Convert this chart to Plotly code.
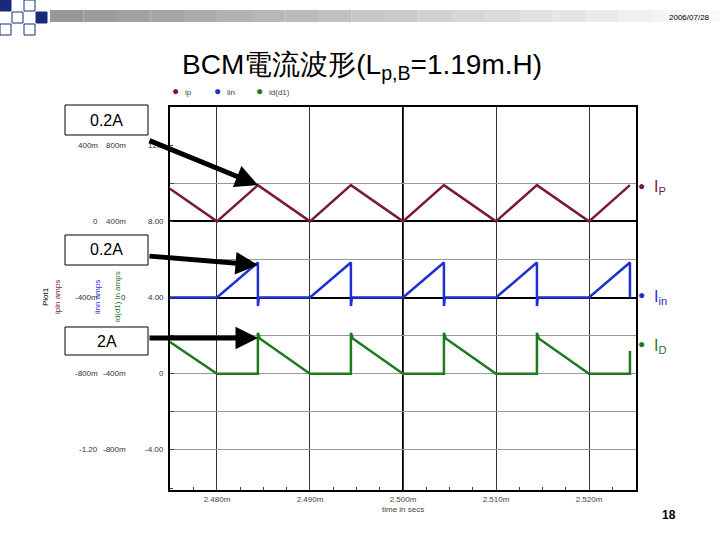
import plotly.graph_objects as go

# ---- data (time in ms, current in plot units of the id(d1) scale) ----
ip_t = [2.47495, 2.4800, 2.4844, 2.4900, 2.4944, 2.5000, 2.5044, 2.5100, 2.5144, 2.5200, 2.5244]
ip_v = [9.71, 8.0, 9.9, 8.0, 9.9, 8.0, 9.9, 8.0, 9.9, 8.0, 9.9]

iin_t = [2.47495, 2.4800, 2.4844, 2.4844, 2.4845, 2.4900, 2.4944, 2.4944, 2.4945, 2.5000,
         2.5044, 2.5044, 2.5045, 2.5100, 2.5144, 2.5144, 2.5145, 2.5200, 2.5244, 2.5244]
iin_v = [4.0, 4.0, 5.84, 3.55, 4.0, 4.0, 5.84, 3.55, 4.0, 4.0,
         5.84, 3.55, 4.0, 4.0, 5.84, 3.55, 4.0, 4.0, 5.84, 4.0]

id_t = [2.47495, 2.4800, 2.4844, 2.4844, 2.4846, 2.4900, 2.4944, 2.4944, 2.4946, 2.5000,
        2.5044, 2.5044, 2.5046, 2.5100, 2.5144, 2.5144, 2.5146, 2.5200, 2.5244, 2.5244]
id_v = [1.67, 0.0, 0.0, 2.15, 1.85, 0.0, 0.0, 2.15, 1.85, 0.0,
        0.0, 2.15, 1.85, 0.0, 0.0, 2.15, 1.85, 0.0, 0.0, 1.2]

x_ticks = [2.480, 2.490, 2.500, 2.510, 2.520]
x_ticktext = ["2.480m", "2.490m", "2.500m", "2.510m", "2.520m"]
y_rows = [12.0, 8.0, 4.0, 0.0, -4.0]
col_ip = ["400m", "0", "-400m", "-800m", "-1.20"]
col_iin = ["800m", "400m", "0", "-400m", "-800m"]
col_id = ["12.0", "8.00", "4.00", "0", "-4.00"]

MAROON, BLUE, GREEN = "#7a1840", "#1f2fd0", "#1e7a1e"

X0, X1 = 170 / 720, 636 / 720
Y0, Y1 = (540 - 490) / 540, (540 - 107) / 540
YR = [-6.1, 14.0]

fig = go.Figure()
# invisible trace to anchor the overlay axis that carries the dark grid lines
fig.add_trace(go.Scatter(x=[ip_t[0]], y=[ip_v[0]], yaxis="y2", mode="markers",
                         marker=dict(opacity=0), hoverinfo="skip"))
fig.add_trace(go.Scatter(x=ip_t, y=ip_v, mode="lines", line=dict(color=MAROON, width=2.5)))
fig.add_trace(go.Scatter(x=iin_t, y=iin_v, mode="lines", line=dict(color=BLUE, width=2.5)))
fig.add_trace(go.Scatter(x=id_t, y=id_v, mode="lines", line=dict(color=GREEN, width=2.5)))


def px(x):
    return x / 720


def py(y):
    return (540 - y) / 540


def note(x, y, text, size=8, color="black", xanchor="center", **kw):
    fig.add_annotation(x=px(x), y=py(y), xref="paper", yref="paper", text=text, showarrow=False,
                       xanchor=xanchor, yanchor="middle", font=dict(size=size, color=color), **kw)


fig.update_layout(
    width=720, height=540, margin=dict(l=0, r=0, t=0, b=0),
    paper_bgcolor="white", plot_bgcolor="white", showlegend=False,
    font=dict(family="Liberation Sans, Arial", color="black"),
    xaxis=dict(domain=[X0, X1], range=[2.47495, 2.52505], tickvals=x_ticks, ticktext=x_ticktext,
               showgrid=True, gridcolor="#333", gridwidth=1, zeroline=False,
               showline=True, linecolor="black", linewidth=2, mirror=True,
               ticks="inside", ticklen=4, tickfont=dict(size=8, color="#444"),
               minor=dict(ticks="inside", ticklen=3, dtick=0.0025, showgrid=False)),
    yaxis=dict(domain=[Y0, Y1], range=YR, tickvals=[-4, -2, 0, 2, 6, 10],
               showticklabels=False, showgrid=True, gridcolor="#999", zeroline=False,
               showline=True, linecolor="black", linewidth=2, mirror=True,
               ticks="inside", ticklen=4,
               minor=dict(ticks="inside", ticklen=3, dtick=2, showgrid=False)),
    yaxis2=dict(overlaying="y", range=YR, tickvals=[4, 8], showticklabels=False,
                showgrid=True, gridcolor="black", gridwidth=1.5, zeroline=False, ticks=""),
)

fig.add_shape(type="line", xref="x", yref="paper", x0=2.500, x1=2.500, y0=Y0, y1=Y1,
              line=dict(color="black", width=2), layer="between")

for i, yv in enumerate(y_rows):
    for xp, txt in [(100, col_ip[i]), (128, col_iin[i]), (166, col_id[i])]:
        fig.add_annotation(x=px(xp), y=yv, xref="paper", yref="y", text=txt, showarrow=False,
                           xanchor="right", yanchor="middle", font=dict(size=8, color="#333"))

for xp, txt, col in [(45, "Plot1", "black"), (57, "ipin amps", MAROON), (97, "iinn amps", BLUE),
                     (117, "id(d1) in amps", GREEN)]:
    note(xp, 297, txt, color=col, textangle=-90)

note(403, 509, "time in secs", color="#444")
note(362, 66, "BCM電流波形(L<sub>p,B</sub>=1.19m.H)", size=28)
note(712, 18, "2006/07/28", xanchor="right")
note(678, 515, "<b>18</b>", size=12, xanchor="right")

n = 20
for k in range(n):
    g = int(150 + 105 * k / n)
    fig.add_shape(type="rect", xref="paper", yref="paper",
                  x0=px(50 + k * 670 / n), x1=px(50 + (k + 1) * 670 / n),
                  y0=py(22), y1=py(10),
                  line=dict(width=0), fillcolor=f"rgb({g},{g},{min(g + 5, 255)})")
for (x0, y0, filled) in [(0, 0, True), (24, 0, False), (12, 12, False), (36, 12, True), (24, 24, False), (0, 24, False)]:
    fig.add_shape(type="rect", xref="paper", yref="paper", x0=px(x0), x1=px(x0 + 11),
                  y0=py(y0 + 11), y1=py(y0),
                  line=dict(color="#1a2a7a", width=1),
                  fillcolor="#1a2a7a" if filled else "white")

for xp, txt, col in [(175, "ip", MAROON), (217, "iin", BLUE), (259, "id(d1)", GREEN)]:
    note(xp, 91, "●", size=12, color=col)
    note(xp + 8, 92, txt, color="#444", xanchor="left")

for yp, txt, col in [(188, "I<sub>P</sub>", MAROON), (297, "I<sub>in</sub>", BLUE), (346, "I<sub>D</sub>", GREEN)]:
    note(641, yp - 2, "●", size=12, color=col)
    note(652, yp, txt, size=16, color=col, xanchor="left")

for (bx0, by0, bx1, by1, txt, tx, ty, sy) in [(65, 105, 148, 135, "0.2A", 258, 185, 140),
                                               (65, 235, 148, 265, "0.2A", 258, 265, 256),
                                               (65, 327, 148, 355, "2A", 258, 338, 338)]:
    fig.add_shape(type="rect", xref="paper", yref="paper", x0=px(bx0), x1=px(bx1),
                  y0=py(by1), y1=py(by0), line=dict(color="black", width=1),
                  fillcolor="white")
    note((bx0 + bx1) / 2, (by0 + by1) / 2, txt, size=16)
    fig.add_annotation(x=px(tx), y=py(ty), xref="paper", yref="paper",
                       ax=bx1 - tx, ay=sy - ty, axref="pixel", ayref="pixel",
                       text="", showarrow=True, arrowhead=2, arrowsize=0.9, arrowwidth=5,
                       arrowcolor="black")

fig.write_html("out.html", config={"displayModeBar": False},
               post_script="document.body.style.margin='0';")
